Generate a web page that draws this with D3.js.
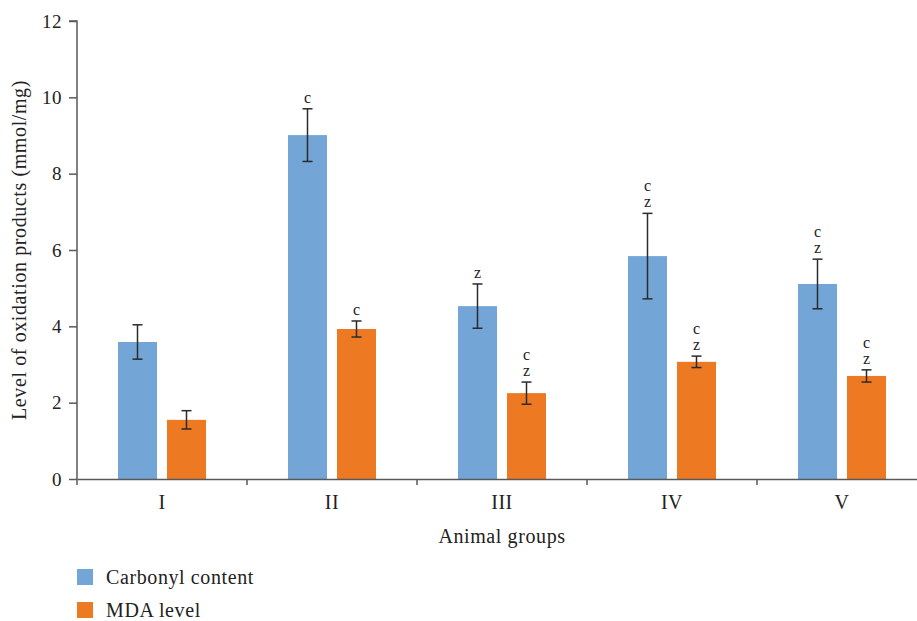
<!DOCTYPE html>
<html>
<head>
<meta charset="utf-8">
<script src="https://cdn.jsdelivr.net/npm/d3@7"></script>
<style>
  body { margin: 0; background: #fff; }
  svg { display: block; font-family: "Liberation Serif", "DejaVu Serif", serif; }
</style>
</head>
<body>
<svg id="chart" width="917" height="621"></svg>
<script>
// data
const groups = ['I', 'II', 'III', 'IV', 'V'];
const series = ['Carbonyl content', 'MDA level'];
const carbonyl = [3.59, 9.01, 4.53, 5.84, 5.11];
const carbonylErr = [0.45, 0.69, 0.58, 1.12, 0.65];
const mda = [1.55, 3.93, 2.25, 3.07, 2.70];
const mdaErr = [0.24, 0.21, 0.29, 0.15, 0.16];
const carbonylMarks = [[], ['c'], ['z'], ['c', 'z'], ['c', 'z']];
const mdaMarks = [[], ['c'], ['c', 'z'], ['c', 'z'], ['c', 'z']];
const yTicks = [0, 2, 4, 6, 8, 10, 12];

const colors = { 'Carbonyl content': '#73a5d6', 'MDA level': '#ed7a23' };
const axisColor = '#595959';
const textColor = '#222';

const svg = d3.select('#chart');
const mLeft = 77, mBottom = 479, mTop = 21, mRight = 927;

const x = d3.scaleBand().domain(groups).range([mLeft, mRight]);
const bw = x.bandwidth();
const xSub = d3.scaleBand().domain(series)
    .range([bw / 2 - 49, bw / 2 + 49])
    .paddingInner(10 / 49).paddingOuter(5 / 49);
const y = d3.scaleLinear().domain([0, 12]).range([mBottom, mTop]);

const rows = [];
groups.forEach((g, i) => {
    rows.push({ g, s: series[0], v: carbonyl[i], e: carbonylErr[i], marks: carbonylMarks[i] });
    rows.push({ g, s: series[1], v: mda[i], e: mdaErr[i], marks: mdaMarks[i] });
});

// bars
svg.append('g').selectAll('rect').data(rows).join('rect')
    .attr('x', d => x(d.g) + xSub(d.s))
    .attr('width', xSub.bandwidth())
    .attr('y', d => y(d.v))
    .attr('height', d => y(0) - y(d.v))
    .attr('fill', d => colors[d.s]);

// error bars
const eb = svg.append('g').attr('stroke', '#2b2b2b').attr('stroke-width', 1.5);
rows.forEach(d => {
    const cx = x(d.g) + xSub(d.s) + xSub.bandwidth() / 2;
    const y1 = y(d.v + d.e), y2 = y(d.v - d.e);
    eb.append('line').attr('x1', cx).attr('x2', cx).attr('y1', y1).attr('y2', y2);
    eb.append('line').attr('x1', cx - 5).attr('x2', cx + 5).attr('y1', y1).attr('y2', y1);
    eb.append('line').attr('x1', cx - 5).attr('x2', cx + 5).attr('y1', y2).attr('y2', y2);

    // significance letters stacked upwards from the error bar top
    const n = d.marks.length;
    d.marks.forEach((m, k) => {
        svg.append('text')
            .attr('x', cx)
            .attr('y', y1 - 6 - (n - 1 - k) * 16)
            .attr('text-anchor', 'middle')
            .attr('font-size', 16)
            .attr('fill', textColor)
            .text(m);
    });
});

// y axis
const yAxis = svg.append('g')
    .attr('transform', `translate(${mLeft},0)`)
    .call(d3.axisLeft(y).tickValues(yTicks).tickFormat(d3.format('d')).tickSize(8).tickPadding(7));
yAxis.selectAll('text').attr('font-size', 19).attr('fill', textColor)
    .style('font-family', 'Liberation Serif').style('letter-spacing', '0.5px');
yAxis.selectAll('line, path').attr('stroke', axisColor).attr('stroke-width', 1.5);
yAxis.select('.domain').attr('d', `M-8,${mTop}H0V${mBottom + 6}`);

// x axis
const xAxis = svg.append('g')
    .attr('transform', `translate(0,${mBottom})`)
    .call(d3.axisBottom(x).tickSize(0).tickPadding(16));
xAxis.select('.domain').attr('stroke', axisColor).attr('stroke-width', 1.5);
xAxis.selectAll('text').attr('font-size', 20).attr('fill', textColor)
    .style('font-family', 'Liberation Serif').style('letter-spacing', '0.5px');
xAxis.selectAll('.boundary').data(groups.slice(1)).join('line')
    .attr('class', 'boundary')
    .attr('x1', d => x(d)).attr('x2', d => x(d))
    .attr('y1', 0).attr('y2', 6)
    .attr('stroke', axisColor).attr('stroke-width', 1.5);

// axis titles
svg.append('text')
    .attr('x', (mLeft + mRight) / 2).attr('y', 543)
    .attr('text-anchor', 'middle').attr('font-size', 20).attr('fill', textColor)
    .style('letter-spacing', '0.6px')
    .text('Animal groups');
svg.append('text')
    .attr('transform', `translate(26,${(mTop + mBottom) / 2}) rotate(-90)`)
    .attr('text-anchor', 'middle').attr('font-size', 20).attr('fill', textColor)
    .style('letter-spacing', '0.6px')
    .text('Level of oxidation products (mmol/mg)');

// legend
const legend = svg.append('g').selectAll('g').data(series).join('g')
    .attr('transform', (d, i) => `translate(77,${569 + i * 33})`);
legend.append('rect').attr('width', 16).attr('height', 16).attr('fill', d => colors[d]);
legend.append('text').attr('x', 29).attr('y', 15)
    .attr('font-size', 20).attr('fill', textColor)
    .style('letter-spacing', '0.6px')
    .text(d => d);
</script>
</body>
</html>
